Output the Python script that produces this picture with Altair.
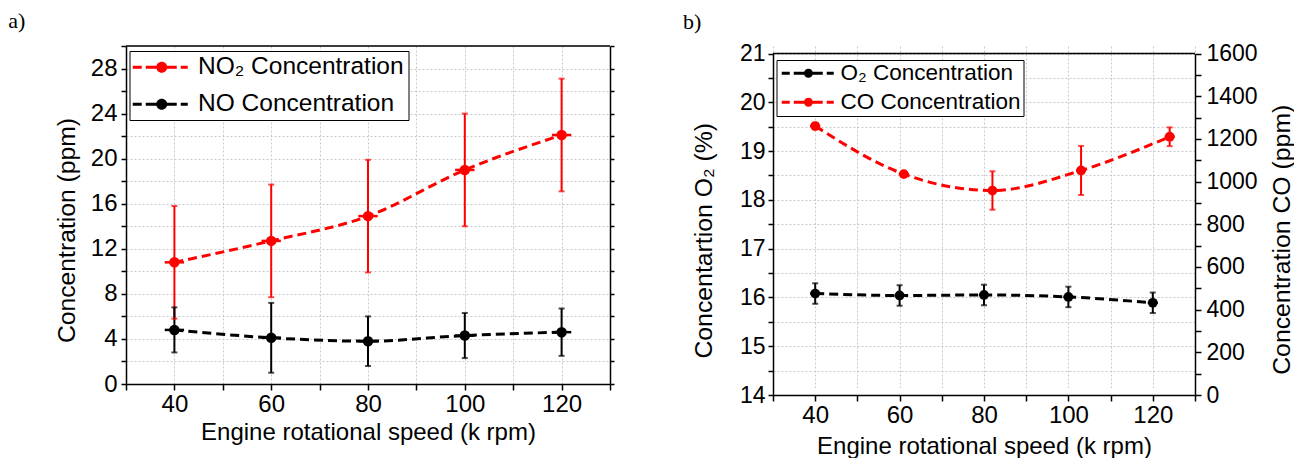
import altair as alt
import pandas as pd

# ---------------- data ----------------
speed = [40, 60, 80, 100, 120]
no2 = [10.8, 12.7, 14.9, 19.0, 22.1]
no2_err = [5.0, 5.0, 5.0, 5.0, 5.0]
no = [4.8, 4.1, 3.8, 4.3, 4.6]
no_err = [2.0, 3.1, 2.2, 2.0, 2.1]
speed_err_a = [2.0, 2.0, 2.0, 2.0, 2.0]

o2_speed = [40, 60, 80, 100, 120]
o2 = [16.08, 16.04, 16.05, 16.01, 15.89]
o2_err = [0.21, 0.21, 0.21, 0.21, 0.21]
co_speed = [40, 61, 82, 103, 124]
co = [1260, 1035, 958, 1052, 1210]
co_err = [15, 12, 90, 115, 44]
speed_err_b = [1.2, 1.2, 1.2, 1.2, 1.2]

x_ticks = [30, 40, 50, 60, 70, 80, 90, 100, 110, 120, 130]
ya_ticks = list(range(0, 31, 2))
yb_ticks = [14, 14.5, 15, 15.5, 16, 16.5, 17, 17.5, 18, 18.5, 19, 19.5, 20, 20.5, 21]
yco_ticks = list(range(0, 1601, 100))
x_limits = [30, 130]
ya_limits = [0, 30]
yb_limits = [14, 21]
yco_limits = [0, 1600]

series_a = ["NO₂ Concentration", "NO Concentration"]
keys_a = ["no2", "no"]
colors_a = ["#ff0000", "#000000"]
series_b = ["O₂ Concentration", "CO Concentration"]
keys_b = ["o2", "co"]
colors_b = ["#000000", "#ff0000"]


def frame(xs, ys, errs, xerrs, name, key):
    return pd.DataFrame({
        "speed": xs, "val": ys,
        "lo": [v - e for v, e in zip(ys, errs)],
        "hi": [v + e for v, e in zip(ys, errs)],
        "xlo": [x - e for x, e in zip(xs, xerrs)],
        "xhi": [x + e for x, e in zip(xs, xerrs)],
        "series": name, "key": key,
    })


df_no2 = frame(speed, no2, no2_err, speed_err_a, series_a[0], keys_a[0])
df_no = frame(speed, no, no_err, speed_err_a, series_a[1], keys_a[1])
df_a = pd.concat([df_no2, df_no], ignore_index=True)
df_o2 = frame(o2_speed, o2, o2_err, speed_err_b, series_b[0], keys_b[0])
df_co = frame(co_speed, co, co_err, speed_err_b, series_b[1], keys_b[1])
df_box_a = pd.DataFrame({"x0": [x_limits[0]], "x1": [x_limits[1]], "ytop": [ya_limits[1]]})
df_box_b = pd.DataFrame({"x0": [x_limits[0]], "x1": [x_limits[1]], "ytop": [yb_limits[1]]})

FONT = "Liberation Sans, Arial, sans-serif"
SERIF = "Liberation Serif, Times New Roman, serif"

# panel geometry
WA, HA = 484, 338
WB, HB = 422, 349
B_TOP = 7.5  # panel b frame starts a little lower than panel a

# ---------------- axes ----------------
x_label_expr = "(datum.value % 20 == 0 && datum.value >= 40 && datum.value <= 120) ? datum.label : ''"
x_scale = alt.Scale(domain=x_limits, nice=False, zero=False)


def x_axis(title_pad):
    return alt.Axis(values=x_ticks, labelExpr=x_label_expr, title="Engine rotational speed (k rpm)",
                    labelFontSize=24, titleFontSize=24, labelPadding=2, titlePadding=title_pad,
                    tickSize=6, labelOverlap=False, labelFlush=False, grid=True)


def x_encs(title_pad):
    ax = x_axis(title_pad)
    return (alt.X("speed:Q", scale=x_scale, axis=ax),
            alt.X("xlo:Q", scale=x_scale, axis=ax),
            alt.X("x0:Q", scale=x_scale, axis=ax))


xa, xerr_a, xbox_a = x_encs(4)
xb, xerr_b, xbox_b = x_encs(7)

ya_axis = alt.Axis(values=ya_ticks, labelExpr="(datum.value % 4 == 0 && datum.value <= 28) ? datum.label : ''",
                   title="Concentration (ppm)", labelFontSize=24, titleFontSize=24.7, tickSize=5,
                   labelPadding=4, titlePadding=11, labelOverlap=False, grid=True, orient="left",
                   titleY=HA / 2 + 15)
ya_right = alt.Axis(values=ya_ticks, labels=False, title=None, tickSize=4, grid=False, domain=True,
                    orient="right")
ya_scale = alt.Scale(domain=ya_limits, nice=False, zero=False)

# legend symbols: dashed line with a dot (path in px around the symbol centre)
sym_a = ("M-13,-1.5H-4V1.5H-13Z M0,-1.5H11V1.5H0Z M21,-1.5H31V1.5H21Z M35,-1.5H42V1.5H35Z "
         "M21.5,0A5.5,5.5 0 1 1 10.5,0A5.5,5.5 0 1 1 21.5,0Z")
sym_b = ("M-8,-1.5H0V1.5H-8Z M4,-1.5H15V1.5H4Z M23,-1.5H33V1.5H23Z M37,-1.5H44V1.5H37Z "
         "M23.2,0A4.5,4.5 0 1 1 14.2,0A4.5,4.5 0 1 1 23.2,0Z")

legend_a = alt.Legend(title=None, orient="none", legendX=3.5, legendY=5, symbolType=sym_a, symbolSize=4,
                      symbolStrokeWidth=0, labelFontSize=24.5, labelFont=FONT, labelColor="black",
                      labelOffset=40, labelLimit=500, rowPadding=12, padding=4, strokeColor="black",
                      fillColor="white", symbolOpacity=1)
legend_b = alt.Legend(title=None, orient="none", legendX=3.5, legendY=B_TOP + 6.5, symbolType=sym_b,
                      symbolSize=4, symbolStrokeWidth=0, labelFontSize=22.5, labelFont=FONT,
                      labelColor="black", labelOffset=39.5, labelLimit=500, rowPadding=6, padding=2,
                      strokeColor="black", fillColor="white", symbolOpacity=1)

col_a = alt.Color("key:N", scale=alt.Scale(domain=keys_a, range=colors_a), legend=None)
fill_a = alt.Fill("series:N", scale=alt.Scale(domain=series_a, range=colors_a), legend=legend_a)
col_b = alt.Color("key:N", scale=alt.Scale(domain=keys_b, range=colors_b), legend=None)
fill_b = alt.Fill("series:N", scale=alt.Scale(domain=series_b, range=colors_b), legend=legend_b)

# ---------------- panel a ----------------
ya = alt.Y("val:Q", scale=ya_scale, axis=ya_axis)
base_a = alt.Chart(df_a)
no2_line = alt.Chart(df_no2).mark_line(strokeWidth=3, strokeDash=[9, 5], interpolate="monotone").encode(
    x=xa, y=ya, color=col_a)
verr_a = base_a.mark_rule(strokeWidth=2).encode(
    x=xa, y=alt.Y("lo:Q", scale=ya_scale, axis=ya_axis), y2="hi:Q", color=col_a)
cap_lo_a = base_a.mark_tick(orient="horizontal", size=6, thickness=2).encode(
    x=xa, y=alt.Y("lo:Q", scale=ya_scale, axis=ya_axis), color=col_a)
cap_hi_a = base_a.mark_tick(orient="horizontal", size=6, thickness=2).encode(
    x=xa, y=alt.Y("hi:Q", scale=ya_scale, axis=ya_axis), color=col_a)
herr_a = base_a.mark_rule(strokeWidth=2.5).encode(x=xerr_a, x2="xhi:Q", y=ya, color=col_a)
pts_a = base_a.mark_circle(size=110, opacity=1).encode(x=xa, y=ya, fill=fill_a)
top_rule_a = alt.Chart(df_box_a).mark_rule(strokeWidth=1.5, color="black").encode(
    x=xbox_a, x2="x1:Q", y=alt.Y("ytop:Q", scale=ya_scale, axis=ya_axis))

main_a = alt.layer(top_rule_a, no2_line, verr_a, cap_lo_a, cap_hi_a, herr_a, pts_a)
no_line = alt.Chart(df_no).mark_line(strokeWidth=3, strokeDash=[9, 5], interpolate="monotone").encode(
    x=xa, y=alt.Y("val:Q", scale=ya_scale, axis=ya_right), color=col_a)

panel_a = alt.layer(main_a, no_line).resolve_axis(y="independent").properties(
    width=WA, height=HA, view=alt.ViewBackground(stroke=None),
    title=alt.Title("a)", anchor="start", font=SERIF, fontSize=22, fontWeight="normal", color="black",
                    dx=-46, offset=1))

# ---------------- panel b ----------------
yb_scale = alt.Scale(domain=yb_limits, nice=False, zero=False, range=[HB, B_TOP])
yb_axis = alt.Axis(values=yb_ticks, labelExpr="(datum.value % 1 == 0) ? datum.label : ''", format=".0f",
                   title="Concentartion O₂ (%)", labelFontSize=23, titleFontSize=24.8, tickSize=5,
                   labelPadding=3, titlePadding=22.5, labelOverlap=False, grid=True, orient="left",
                   titleY=(HB + B_TOP) / 2 + 16)
yco_scale = alt.Scale(domain=yco_limits, nice=False, zero=False, range=[HB, B_TOP])
yco_axis = alt.Axis(values=yco_ticks, labelExpr="(datum.value % 200 == 0) ? datum.label : ''", format="d",
                    title="Concentration CO (ppm)", labelFontSize=23, titleFontSize=24.8, tickSize=6,
                    labelPadding=5, titlePadding=12, labelOverlap=False, grid=False, orient="right",
                    titleAngle=270, titleBaseline="top", titleY=(HB + B_TOP) / 2 + 15)


def series_layers(df, y_scale, y_axis):
    yv = alt.Y("val:Q", scale=y_scale, axis=y_axis)
    b = alt.Chart(df)
    line = b.mark_line(strokeWidth=3, strokeDash=[9, 5], interpolate="monotone").encode(x=xb, y=yv, color=col_b)
    verr = b.mark_rule(strokeWidth=2).encode(
        x=xb, y=alt.Y("lo:Q", scale=y_scale, axis=y_axis), y2="hi:Q", color=col_b)
    clo = b.mark_tick(orient="horizontal", size=6, thickness=2).encode(
        x=xb, y=alt.Y("lo:Q", scale=y_scale, axis=y_axis), color=col_b)
    chi = b.mark_tick(orient="horizontal", size=6, thickness=2).encode(
        x=xb, y=alt.Y("hi:Q", scale=y_scale, axis=y_axis), color=col_b)
    herr = b.mark_rule(strokeWidth=2.5).encode(x=xerr_b, x2="xhi:Q", y=yv, color=col_b)
    pts = b.mark_circle(size=95, opacity=1).encode(x=xb, y=yv, fill=fill_b)
    return [line, verr, clo, chi, herr, pts]


top_rule_b = alt.Chart(df_box_b).mark_rule(strokeWidth=1.5, color="black").encode(
    x=xbox_b, x2="x1:Q", y=alt.Y("ytop:Q", scale=yb_scale, axis=yb_axis))
o2_group = alt.layer(top_rule_b, *series_layers(df_o2, yb_scale, yb_axis))
co_group = alt.layer(*series_layers(df_co, yco_scale, yco_axis))

panel_b = alt.layer(o2_group, co_group).resolve_scale(y="independent").properties(
    width=WB, height=HB, view=alt.ViewBackground(stroke=None),
    title=alt.Title("b)", anchor="start", font=SERIF, fontSize=22, fontWeight="normal", color="black",
                    dx=-9, offset=8.5))

chart = alt.hconcat(panel_a, panel_b, spacing=67).resolve_scale(
    color="independent", fill="independent").properties(
    padding={"left": 0, "top": 2, "right": 0, "bottom": 0}
).configure_axis(
    labelFont=FONT, titleFont=FONT, labelColor="black", titleColor="black", titleFontWeight="normal",
    domainColor="black", domainWidth=1.5, tickColor="black", tickWidth=1.5,
    gridColor="#c8c8c8", gridDash=[2, 2], gridWidth=1
).configure_view(stroke=None).configure_title(font=SERIF)

chart.save("out.html", embed_options={"renderer": "svg", "actions": False})
